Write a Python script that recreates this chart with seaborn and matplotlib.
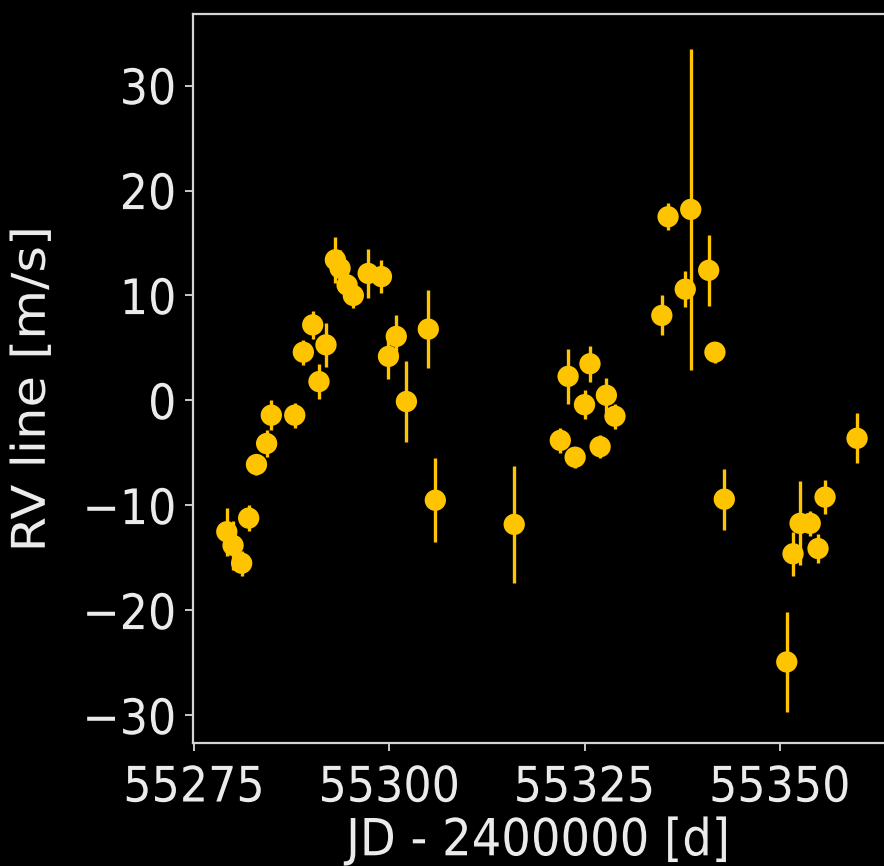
import matplotlib
matplotlib.use("Agg")
import matplotlib.pyplot as plt
import seaborn as sns
import pandas as pd
from matplotlib.patheffects import AbstractPathEffect
from matplotlib.transforms import Affine2D

# Data
jd = [55279.2, 55280.0, 55281.1, 55282.0, 55283.0, 55284.3, 55284.9, 55287.9,
      55289.0, 55290.2, 55291.0, 55291.9, 55293.1, 55293.7, 55294.6, 55295.4,
      55297.3, 55299.0, 55299.9, 55300.9, 55302.2, 55305.0, 55305.9, 55316.0,
      55321.9, 55322.9, 55323.8, 55325.0, 55325.7, 55327.0, 55327.8, 55328.9,
      55334.9, 55335.7, 55337.9, 55338.6, 55340.9, 55341.7, 55342.9,
      55350.9, 55351.7, 55352.6, 55353.9, 55354.9, 55355.8, 55359.9]
rv = [-12.5, -13.8, -15.5, -11.2, -6.1, -4.1, -1.4, -1.4,
      4.6, 7.2, 1.8, 5.3, 13.4, 12.6, 11.0, 10.0,
      12.1, 11.8, 4.2, 6.1, -0.1, 6.8, -9.5, -11.8,
      -3.8, 2.3, -5.4, -0.4, 3.5, -4.4, 0.5, -1.5,
      8.1, 17.5, 10.6, 18.2, 12.4, 4.6, -9.4,
      -24.9, -14.6, -11.7, -11.7, -14.1, -9.2, -3.6]
rv_err = [2.3, 2.3, 1.2, 1.2, 1.0, 1.3, 1.4, 1.2,
          1.2, 1.3, 1.7, 2.1, 2.2, 1.7, 1.2, 1.2,
          2.3, 1.6, 2.2, 2.0, 3.9, 3.7, 4.0, 5.6,
          1.2, 2.6, 1.0, 1.4, 1.7, 1.1, 1.6, 1.2,
          1.9, 1.3, 1.7, 15.3, 3.4, 1.0, 2.9,
          4.8, 2.1, 4.0, 1.2, 1.4, 1.6, 2.4]
x_ticks = [55275, 55300, 55325, 55350]
y_ticks = [-30, -20, -10, 0, 10, 20, 30]

df = pd.DataFrame({"jd": jd, "rv": rv, "err": rv_err})


class Stretch(AbstractPathEffect):
    """Stretch a text path along its own x or y direction (display is taller)."""
    def __init__(self, factor=1.1, along="y"):
        super().__init__()
        self.factor = factor
        self.along = along

    def draw_path(self, renderer, gc, tpath, affine, rgbFace=None):
        v = tpath.vertices
        if self.along == "y":
            c = 36.0
            t = Affine2D().translate(0, -c).scale(1, self.factor).translate(0, c)
        else:
            c = 0.5 * (v[:, 0].min() + v[:, 0].max()) if len(v) else 0.0
            t = Affine2D().translate(-c, 0).scale(self.factor, 1).translate(c, 0)
        renderer.draw_path(gc, tpath, t + affine, rgbFace)


sns.set_theme(style="ticks")
plt.rcParams["font.family"] = ["DejaVu Sans"]

color = "#ffc400"
fg = "#ebebeb"

W, H = 884, 866
fig = plt.figure(figsize=(W / 100, H / 100), dpi=100, facecolor="black")
left_px, top_px, bottom_px, right_px = 193, 14, 743, 884
ax = fig.add_axes([left_px / W, (H - bottom_px) / H,
                   (right_px - left_px) / W, (bottom_px - top_px) / H])
ax.set_facecolor("black")

ax.errorbar(df["jd"], df["rv"], yerr=df["err"], fmt="none",
            ecolor=color, elinewidth=2.4, capsize=0, zorder=2)
sns.scatterplot(data=df, x="jd", y="rv", ax=ax, color=color, s=235,
                edgecolor="none", linewidth=0, zorder=3)

px_per_day = 7.81
x0 = 55275 - 1 / px_per_day
ax.set_xlim(x0, x0 + (right_px - left_px) / px_per_day)
ax.set_ylim(-32.62, 36.81)
ax.set_xticks(x_ticks)
ax.set_yticks(y_ticks)
ax.set_yticklabels([f"{v}".replace("-", "\u2212") for v in y_ticks])

for s in ax.spines.values():
    s.set_color("#d4d4d4")
    s.set_linewidth(1.6)
ax.spines["right"].set_visible(False)

ax.tick_params(colors=fg, labelsize=32, length=6, width=1.2)
ax.tick_params(axis="x", pad=10.5)
ax.tick_params(axis="y", pad=6)
ax.set_xlabel("JD - 2400000 [d]", color=fg, fontsize=33.5, labelpad=7)
ax.set_ylabel("RV line [m/s]", color=fg, fontsize=33.5)
ax.yaxis.set_label_coords(-0.2, 0.485)

for lab in ax.get_xticklabels() + ax.get_yticklabels():
    lab.set_path_effects([Stretch(1.1, "y")])
ax.xaxis.label.set_path_effects([Stretch(1.1, "y")])
ax.yaxis.label.set_path_effects([Stretch(1.1, "x")])

fig.savefig("out.png", dpi=100, facecolor="black")
